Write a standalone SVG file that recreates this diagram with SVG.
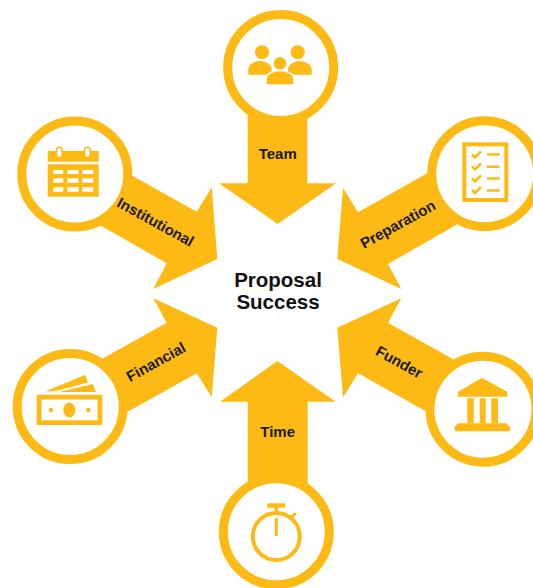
<svg xmlns="http://www.w3.org/2000/svg" width="533" height="588" viewBox="0 0 533 588">
<style>
.y{fill:#FDBA14}
.ring{fill:#fff;stroke:#FDBA14;stroke-width:9}
.lbl{font-family:"Liberation Sans",Arial,sans-serif;font-weight:700;font-size:15px;fill:#1a1a1a;text-anchor:middle;dominant-baseline:central}
.ctr{font-family:"Liberation Sans",Arial,sans-serif;font-weight:700;font-size:20.500px;fill:#111;text-anchor:middle}
.ln{fill:none;stroke:#FDBA14}
</style>
<rect width="533" height="588" fill="#fff"/>
<g id="connectors" class="y">
<polygon id="arrow-team" points="247.7,115 307.3,115 307.3,183.3 336,183.3 277.7,224 219,183.3 247.7,183.3"/>
<polygon id="arrow-institutional" points="125,171.7 196.7,211.7 211.7,187.3 217.3,259 153.3,289 166.7,263.3 94,221.7"/>
<polygon id="arrow-preparation" points="433,170 358,212.3 343,187.7 337.3,259 401.3,289 388,264 463,221"/>
<polygon id="arrow-financial" points="96,362.3 166.7,322.7 153.3,298.3 217.3,327.7 211.7,397.3 196.7,373.3 120.5,415.7"/>
<polygon id="arrow-funder" points="460,363 388,322.7 401.3,298.3 337.3,327.7 343,397.3 358,373.3 432,414.7"/>
<polygon id="arrow-time" points="247.7,488 247.7,401.7 220,401.7 277.3,361 335.7,401.7 307.7,401.7 307.7,488"/>
</g>
<g id="node-center">
<text class="ctr" x="278" y="287">Proposal</text>
<text class="ctr" x="278" y="309">Success</text>
</g>
<g id="node-team">
<circle class="ring" cx="280.7" cy="67.5" r="53"/>
<g class="y">
<circle cx="262" cy="52.3" r="7"/><circle cx="297.7" cy="52.3" r="7"/>
<path d="M248.3 74.7v-5c0-5 6-8.700 11.700-8.700s11.700 3.700 11.700 8.700v5z"/>
<path d="M288 74.700v-5c0-5 6-8.700 11.800-8.700s11.900 3.700 11.900 8.700v5z"/>
<circle cx="280" cy="63.300" r="7" stroke="#fff" stroke-width="1.500"/>
<path d="M266 85v-6c0-5 7-8.500 14-8.500s14 3.500 14 8.500v6z" stroke="#fff" stroke-width="1.500"/>
</g>
</g>
<g id="node-institutional">
<circle class="ring" cx="74.800" cy="174" r="53"/>
<g class="y">
<rect x="47.700" y="151" width="51" height="10.700"/>
<path fill-rule="evenodd" d="M47.700 164.300h51v32.400h-51zM53.300 170v4h10v-4zM67.300 170v4h11.400v-4zM82.300 170v4h11v-4zM53.300 178.300v4.400h10v-4.400zM67.300 178.300v4.400h11.400v-4.400zM82.300 178.300v4.400h11v-4.400zM53.300 187.300v4.400h10v-4.400zM67.300 187.300v4.400h11.400v-4.400zM82.300 187.300v4.400h11v-4.400z"/>
</g>
<rect x="56.500" y="147.300" width="5.600" height="10.400" rx="2.800" fill="#fff" stroke="#FDBA14" stroke-width="1.500"/>
<rect x="84.500" y="147.300" width="5.600" height="10.400" rx="2.800" fill="#fff" stroke="#FDBA14" stroke-width="1.500"/>
</g>
<g id="node-preparation">
<circle class="ring" cx="484.800" cy="173.700" r="53"/>
<rect class="ln" x="464.300" y="144.300" width="42" height="55.700" stroke-width="4"/>
<g class="ln" stroke-width="2.500">
<path d="M472 154.500l3 3 6-6M472 166.500l3 3 6-6M472 178.500l3 3 6-6M472 190l3 3 6-6"/>
<path d="M487 154.500h12.700M487 166.700h12.700M487 178.500h12.700M487 190.500h12.700"/>
</g>
</g>
<g id="node-financial">
<circle class="ring" cx="70.200" cy="406.500" r="53"/>
<g class="y">
<path fill-rule="evenodd" d="M36.700 394.700h65.600V425H36.700zM41.500 399.500v20.700h56v-20.700z"/>
<ellipse cx="69.300" cy="410" rx="6" ry="7.500"/>
<circle cx="51" cy="410" r="2.200"/><circle cx="88.300" cy="410" r="2.200"/>
<polygon points="46.700,390.700 85,375 88,382.500 58,390.500 47,391.500"/>
<polygon points="59.300,392 92.700,384 96,392"/>
</g>
</g>
<g id="node-funder">
<circle class="ring" cx="483" cy="409.200" r="53"/>
<g class="y">
<polygon points="482,377.700 507.300,391.700 507.300,396.700 458,396.700 458,391.700"/>
<rect x="467.300" y="398.300" width="6.400" height="25"/>
<rect x="479.700" y="398.300" width="6" height="25"/>
<rect x="491.300" y="398.300" width="6.700" height="25"/>
<polygon points="458,423.300 506.300,423.300 510.300,427.300 510.300,431.300 454.700,431.300 454.700,427.300"/>
</g>
</g>
<g id="node-time">
<circle class="ring" cx="276.300" cy="531.800" r="53"/>
<circle class="ln" cx="276.300" cy="536.500" r="23.500" stroke-width="4"/>
<g class="y"><rect x="267.300" y="503.300" width="18" height="4.400"/><rect x="274.600" y="507" width="3.400" height="6"/></g>
<path class="ln" stroke-width="3" d="M276.300 518V536M290.700 517.700L296 513.300"/>
</g>
<g id="connector-labels">
<text class="lbl" x="277.700" y="153">Team</text>
<text class="lbl" transform="translate(155.700 221.700) rotate(29)">Institutional</text>
<text class="lbl" transform="translate(397.700 224) rotate(-29)">Preparation</text>
<text class="lbl" transform="translate(155.800 361.700) rotate(-29)">Financial</text>
<text class="lbl" transform="translate(399.300 361.700) rotate(29)">Funder</text>
<text class="lbl" x="277.700" y="431.700">Time</text>
</g>
</svg>
